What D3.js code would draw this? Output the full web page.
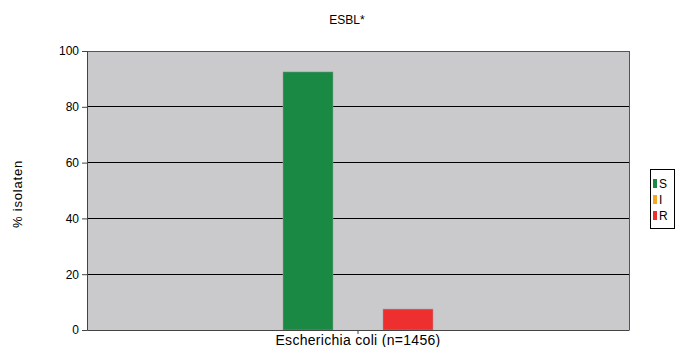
<!DOCTYPE html>
<html><head><meta charset="utf-8">
<script src="https://cdn.jsdelivr.net/npm/d3@7"></script>
<style>body{margin:0;background:#fff}svg{display:block;font-family:"Liberation Sans",Arial,sans-serif}</style>
</head><body><svg id="c" width="686" height="347"></svg>
<script>
const categories = ["Escherichia coli (n=1456)"];
const seriesNames = ["S", "I", "R"];
const seriesColors = ["#1a8944", "#f5a623", "#ee2f2f"];
const valuesS = [92.5];
const valuesI = [0];
const valuesR = [7.5];
const yTicks = [0, 20, 40, 60, 80, 100];
const title = "ESBL*";
const yTitle = "% isolaten";

const seriesVals = [valuesS, valuesI, valuesR];
const svg = d3.select("#c");
const m = {l: 87, r: 57, t: 51, b: 17};
const W = 686, H = 347;
const x0 = d3.scaleBand().domain(categories).range([m.l, W - m.r]).paddingInner(0).paddingOuter(0);
const x1 = d3.scaleBand().domain(seriesNames).range([0, x0.bandwidth()]).paddingOuter(3.92).paddingInner(0);
const y = d3.scaleLinear().domain([0, 100]).range([H - m.b, m.t]);

svg.append("rect").attr("x", m.l).attr("y", m.t).attr("width", W - m.r - m.l).attr("height", H - m.b - m.t).attr("fill", "#cacacc");

// gridlines
svg.append("g").selectAll("line").data(yTicks.filter(t => t > 0 && t < 100)).join("line")
  .attr("x1", m.l).attr("x2", W - m.r).attr("y1", d => y(d)).attr("y2", d => y(d))
  .attr("stroke", "#000").attr("stroke-width", 1).attr("shape-rendering", "crispEdges");
// top border & right
svg.append("line").attr("x1", m.l).attr("x2", W - m.r).attr("y1", y(100)).attr("y2", y(100)).attr("stroke", "#555").attr("shape-rendering", "crispEdges");
svg.append("line").attr("x1", W - m.r).attr("x2", W - m.r).attr("y1", y(100)).attr("y2", y(0)).attr("stroke", "#555").attr("shape-rendering", "crispEdges");

// bars
categories.forEach((c, ci) => {
  seriesNames.forEach((s, si) => {
    const v = seriesVals[si][ci];
    svg.append("rect").attr("x", x0(c) + x1(s)).attr("width", x1.bandwidth())
      .attr("y", y(v)).attr("height", y(0) - y(v)).attr("fill", seriesColors[si])
      .attr("stroke", v > 0 ? "#9a9a9a" : "none").attr("stroke-width", 0.5);
  });
});

// y axis
const ya = svg.append("g").attr("transform", `translate(${m.l},0)`)
  .call(d3.axisLeft(y).tickValues(yTicks).tickSize(5).tickPadding(3));
ya.select(".domain").attr("stroke", "#444");
ya.selectAll(".tick line").attr("stroke", "#444");
ya.selectAll("text").attr("font-size", 12).attr("fill", "#000").attr("font-family", "Liberation Sans, Arial, sans-serif");

// x axis
const xa = svg.append("g").attr("transform", `translate(0,${H - m.b})`)
  .call(d3.axisBottom(x0).tickSize(4).tickPadding(0).tickSizeOuter(0));
xa.select(".domain").attr("stroke", "#444");
xa.selectAll(".tick line").attr("stroke", "#444");
xa.selectAll("text").attr("font-size", 14).attr("letter-spacing", 0.3).attr("fill", "#000").attr("dy", "0.8em").attr("font-family", "Liberation Sans, Arial, sans-serif");

// title
svg.append("text").attr("x", 347).attr("y", 24).attr("text-anchor", "middle").attr("font-size", 12).text(title);
svg.append("text").attr("transform", "translate(22,194) rotate(-90)").attr("text-anchor", "middle").attr("font-size", 13).attr("letter-spacing", 0.8).text(yTitle);

// legend
const lg = svg.append("g").attr("transform", "translate(650,169)");
lg.append("rect").attr("width", 24).attr("height", 59).attr("fill", "#fff").attr("stroke", "#000").attr("stroke-width", 1).attr("shape-rendering", "crispEdges");
seriesNames.forEach((s, i) => {
  lg.append("rect").attr("x", 3).attr("y", 10 + i * 16).attr("width", 4).attr("height", 9).attr("fill", seriesColors[i]);
  lg.append("text").attr("x", 9).attr("y", 19 + i * 16).attr("font-size", 12).text(s);
});
</script></body></html>
